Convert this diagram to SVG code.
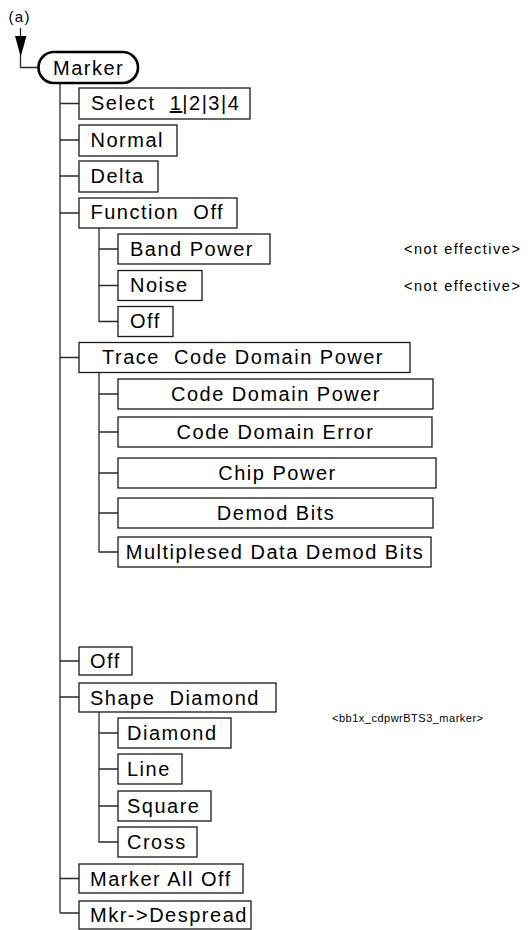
<svg xmlns="http://www.w3.org/2000/svg" width="532" height="930" viewBox="0 0 532 930">
<style>
  .bg{fill:#fff}
  .box{fill:#fff;stroke:#1a1a1a;stroke-width:1.3}
  .root{fill:#fff;stroke:#000;stroke-width:2.6}
  .t{font-family:"Liberation Sans",Arial,sans-serif;font-size:20px;letter-spacing:1.5px;fill:#000;white-space:pre}
  .c{text-anchor:middle}
  .note{font-family:"Liberation Sans",Arial,sans-serif;font-size:14.5px;letter-spacing:1.5px;fill:#000;white-space:pre}
  .tiny{font-family:"Liberation Sans",Arial,sans-serif;font-size:11px;letter-spacing:0.5px;fill:#000}
  .lbl{font-family:"Liberation Sans",Arial,sans-serif;font-size:15px;letter-spacing:1.3px;fill:#000}
  .ln{fill:none;stroke:#2a2a2a;stroke-width:1.3}
  .head{fill:#000}
</style>
<rect class="bg" x="0" y="0" width="532" height="930"/>

<g id="connectors">
  <path class="ln" d="M20.5,28 V67.5 H38"/>
  <path class="head" d="M15,36 L26.5,36 L20.7,56.5 Z"/>
  <path class="ln" d="M60,84 V913"/>
  <path class="ln" d="M60,103.5 H79 M60,140 H79 M60,176 H79 M60,213 H79 M60,357.5 H79 M60,661 H79 M60,697 H79 M60,878.5 H79 M60,913 H79"/>
  <path class="ln" d="M99,228 V321.5 H118 M99,249 H118 M99,285.5 H118"/>
  <path class="ln" d="M99,373 V552 H118 M99,394 H118 M99,432 H118 M99,473 H118 M99,513 H118"/>
  <path class="ln" d="M99,712 V842 H118 M99,733 H118 M99,769 H118 M99,806 H118"/>
</g>

<g id="label-a"><text class="lbl" x="8.5" y="21.5">(a)</text></g>

<g id="marker">
  <rect class="root" x="38.5" y="52" width="99.5" height="31" rx="15.5" ry="15.5"/>
  <text class="t" x="53" y="74.5">Marker</text>
</g>

<g id="select">
  <rect class="box" x="79" y="88" width="171" height="31"/>
  <text class="t" x="91" y="110">Select  <tspan text-decoration="underline">1</tspan>|2|3|4</text>
</g>
<g id="normal">
  <rect class="box" x="79" y="125" width="98" height="31"/>
  <text class="t" x="90.5" y="146.5">Normal</text>
</g>
<g id="delta">
  <rect class="box" x="79" y="161" width="79" height="31"/>
  <text class="t" x="90.5" y="182.5">Delta</text>
</g>
<g id="function">
  <rect class="box" x="79" y="198" width="158" height="30"/>
  <text class="t" x="90.5" y="219">Function  Off</text>
</g>
<g id="band-power">
  <rect class="box" x="118" y="234" width="152" height="30"/>
  <text class="t" x="130" y="255.5">Band Power</text>
</g>
<g id="note-band"><text class="note" x="404" y="253.5">&lt;not effective&gt;</text></g>
<g id="noise">
  <rect class="box" x="118" y="270.5" width="84" height="30"/>
  <text class="t" x="130" y="292">Noise</text>
</g>
<g id="note-noise"><text class="note" x="404" y="291">&lt;not effective&gt;</text></g>
<g id="func-off">
  <rect class="box" x="118" y="306.5" width="55" height="30"/>
  <text class="t" x="130" y="328">Off</text>
</g>

<g id="trace">
  <rect class="box" x="79" y="342.5" width="331" height="30"/>
  <text class="t" x="102" y="364">Trace  Code Domain Power</text>
</g>
<g id="cdp">
  <rect class="box" x="118" y="379" width="315" height="30"/>
  <text class="t c" x="276" y="400.5">Code Domain Power</text>
</g>
<g id="cde">
  <rect class="box" x="118" y="417" width="314" height="30"/>
  <text class="t c" x="275.5" y="438.5">Code Domain Error</text>
</g>
<g id="chip">
  <rect class="box" x="118" y="458" width="318" height="30"/>
  <text class="t c" x="277.5" y="479.5">Chip Power</text>
</g>
<g id="demod">
  <rect class="box" x="118" y="498" width="315" height="30"/>
  <text class="t c" x="276" y="519.5">Demod Bits</text>
</g>
<g id="multi">
  <rect class="box" x="118" y="537" width="313" height="30"/>
  <text class="t c" x="275" y="558.5">Multiplesed Data Demod Bits</text>
</g>

<g id="off">
  <rect class="box" x="79" y="647" width="53" height="28"/>
  <text class="t" x="90" y="668">Off</text>
</g>
<g id="shape">
  <rect class="box" x="79" y="683" width="197" height="29"/>
  <text class="t" x="90" y="704.5">Shape  Diamond</text>
</g>
<g id="note-shape"><text class="tiny" x="332" y="722">&lt;bb1x_cdpwrBTS3_marker&gt;</text></g>
<g id="diamond">
  <rect class="box" x="118" y="718" width="113" height="30"/>
  <text class="t" x="127" y="739.5">Diamond</text>
</g>
<g id="line">
  <rect class="box" x="118" y="754" width="64" height="30"/>
  <text class="t" x="127" y="775.5">Line</text>
</g>
<g id="square">
  <rect class="box" x="118" y="791" width="93" height="30"/>
  <text class="t" x="127" y="812.5">Square</text>
</g>
<g id="cross">
  <rect class="box" x="118" y="827" width="79" height="30"/>
  <text class="t" x="127" y="848.5">Cross</text>
</g>
<g id="all-off">
  <rect class="box" x="79" y="864" width="164" height="29"/>
  <text class="t" x="90" y="885.5">Marker All Off</text>
</g>
<g id="despread">
  <rect class="box" x="79" y="901" width="172" height="28"/>
  <text class="t" x="90" y="922">Mkr-&gt;Despread</text>
</g>
</svg>
